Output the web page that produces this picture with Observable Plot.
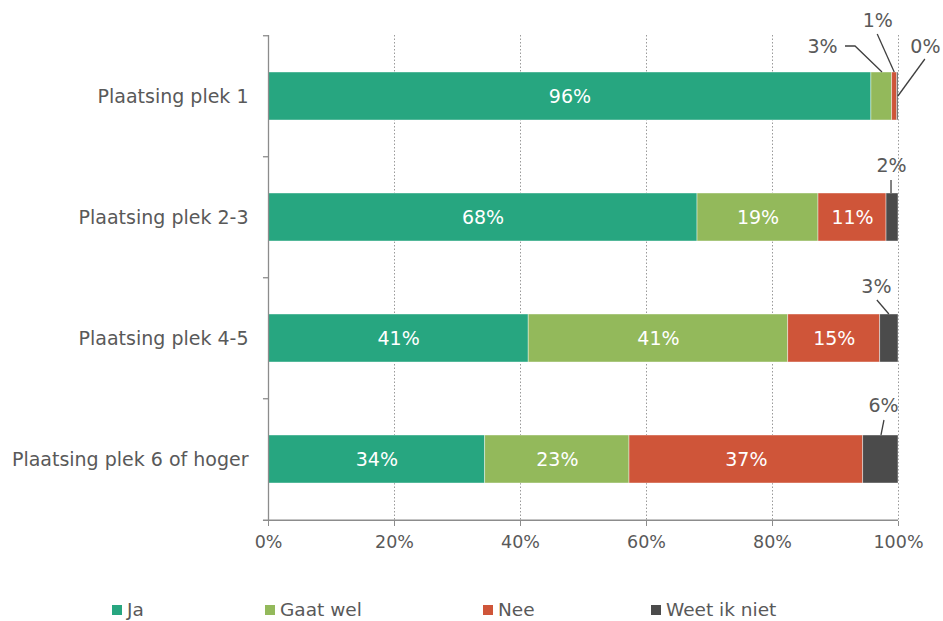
<!DOCTYPE html>
<html><head><meta charset="utf-8">
<script src="https://cdn.jsdelivr.net/npm/d3@7"></script>
<script src="https://cdn.jsdelivr.net/npm/@observablehq/plot@0.6"></script>
<style>
body{margin:0;background:#fff;font-family:"DejaVu Sans",Verdana,sans-serif;}
#legend{position:relative;height:46px;width:943px;}
.item{position:absolute;top:24px;display:flex;align-items:center;font-size:18.5px;color:#595959;line-height:22px;white-space:nowrap;}
.sw{width:10px;height:10px;margin-right:5px;}
</style></head><body>
<div id="chart"></div>
<div id="legend"></div>
<script>
// ---- data ----
const categories = ["Plaatsing plek 1", "Plaatsing plek 2-3", "Plaatsing plek 4-5", "Plaatsing plek 6 of hoger"];
const series = ["Ja", "Gaat wel", "Nee", "Weet ik niet"];
const ja      = [95.7, 68.1, 41.3, 34.4];
const gaatWel = [3.3, 19.2, 41.2, 22.9];
const nee     = [0.8, 10.8, 14.6, 37.1];
const weet    = [0.2, 1.9, 2.9, 5.6];
const xTicks = [0, 20, 40, 60, 80, 100];
const colors = ["#27a680", "#93b95b", "#cf5539", "#4b4b4b"];

const seriesValues = [ja, gaatWel, nee, weet];
const data = [];
categories.forEach((cat, i) => {
  let start = 0;
  series.forEach((s, j) => {
    const v = seriesValues[j][i];
    data.push({cat, series: s, value: v, mid: start + v / 2, label: Math.round(v) + "%"});
    start += v;
  });
});

// callout label placement (pixel offsets from segment centre / band centre)
const callouts = [
  {cat: categories[0], series: "Gaat wel", dx: -59.3, dy: -50, leader: [[-36.3, -50], [-26.3, -50], [0.7, -24]]},
  {cat: categories[0], series: "Nee", dx: -17, dy: -76, leader: [[-17, -62], [0, -24]]},
  {cat: categories[0], series: "Weet ik niet", dx: 27.5, dy: -50, leader: [[27.5, -37], [0.5, 0]]},
  {cat: categories[1], series: "Weet ik niet", dx: -1, dy: -52, leader: [[-1, -37], [-1, -24]]},
  {cat: categories[2], series: "Weet ik niet", dx: -13, dy: -52, leader: [[-12, -38], [0, -24]]},
  {cat: categories[3], series: "Weet ik niet", dx: 2.6, dy: -54, leader: [[3.6, -39], [0.6, -24]]}
];
const isCallout = d => callouts.some(c => c.cat === d.cat && c.series === d.series);

const W = 943, H = 575, ML = 268, MR = 45, MT = 35, MB = 54;
const step = (H - MT - MB) / categories.length;
const axisColor = "#8c8c8c", textColor = "#595959";

const chart = Plot.plot({
  width: W, height: H,
  marginLeft: ML, marginRight: MR, marginTop: MT, marginBottom: MB,
  style: {fontFamily: "DejaVu Sans, Verdana, sans-serif", fontSize: "18.5px", color: textColor, background: "white"},
  x: {domain: [0, 100]},
  y: {domain: categories, paddingInner: 0.6, paddingOuter: 0.3},
  color: {domain: series, range: colors},
  marks: [
    Plot.ruleX(xTicks.filter(t => t > 0), {stroke: "#9a9a9a", strokeDasharray: "1.5,2", strokeWidth: 1}),
    Plot.barX(data, {x: "value", y: "cat", fill: "series", stroke: "white", strokeWidth: 0.7, strokeOpacity: 0.6}),
    Plot.ruleX([0], {stroke: axisColor, strokeWidth: 1.3}),
    Plot.ruleY(categories, {x1: -0.8, x2: 0, dy: -step / 2, stroke: axisColor, strokeWidth: 1.3}),
    Plot.ruleY(categories.slice(-1), {x1: -0.8, x2: 100, dy: step / 2, stroke: axisColor, strokeWidth: 1.3}),
    Plot.axisX(xTicks, {tickFormat: d => d + "%", tickSize: 5, tickPadding: 9, fontSize: 17.5, stroke: axisColor, fill: textColor, label: null}),
    Plot.axisY({tickSize: 0, tickPadding: 20, fontSize: 19, fill: textColor, label: null}),
    Plot.text(data.filter(d => !isCallout(d)), {x: "mid", y: "cat", text: "label", fill: "white", fontSize: 19}),
    ...callouts.map(c => Plot.text(data.filter(d => d.cat === c.cat && d.series === c.series),
      {x: "mid", y: "cat", text: "label", dx: c.dx, dy: c.dy, fill: textColor, fontSize: 19}))
  ]
});

// leader lines, positioned through the chart's own scales
const sx = chart.scale("x"), sy = chart.scale("y");
const svg = d3.select(chart);
callouts.forEach(c => {
  const d = data.find(e => e.cat === c.cat && e.series === c.series);
  const x0 = sx.apply(d.mid), y0 = sy.apply(c.cat) + sy.bandwidth / 2;
  svg.append("path")
    .attr("d", d3.line()(c.leader.map(([dx, dy]) => [x0 + dx, y0 + dy])))
    .attr("fill", "none").attr("stroke", "#404040").attr("stroke-width", 1.3);
});
document.getElementById("chart").appendChild(chart);

// legend
const legendLeft = [112, 265, 483, 651];
const legend = document.getElementById("legend");
series.forEach((s, i) => {
  const item = document.createElement("div");
  item.className = "item";
  item.style.left = legendLeft[i] + "px";
  item.innerHTML = `<span class="sw" style="background:${colors[i]}"></span><span>${s}</span>`;
  legend.appendChild(item);
});
</script></body></html>
